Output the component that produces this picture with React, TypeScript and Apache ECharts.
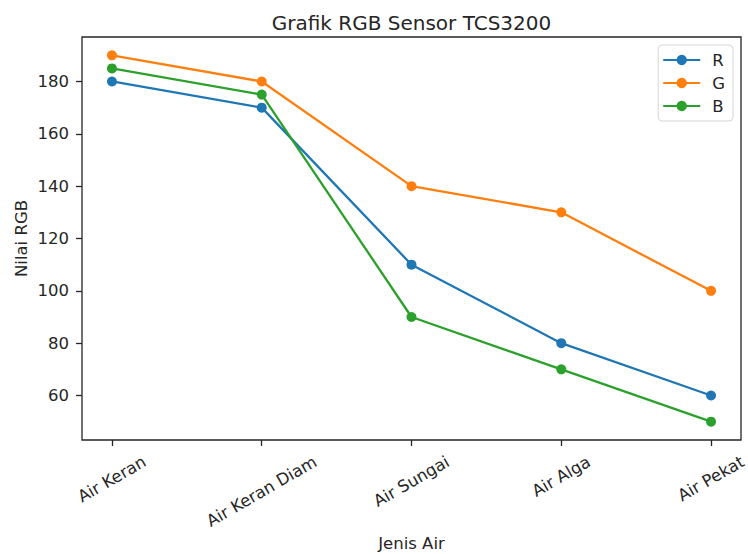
import React, { useEffect, useRef } from "react";
import * as echarts from "echarts";

const categories = ["Air Keran", "Air Keran Diam", "Air Sungai", "Air Alga", "Air Pekat"];
const rValues = [180, 170, 110, 80, 60];
const gValues = [190, 180, 140, 130, 100];
const bValues = [185, 175, 90, 70, 50];
const yTicks = [60, 80, 100, 120, 140, 160, 180];
const seriesNames = ["R", "G", "B"];
const seriesColors = ["#1f77b4", "#ff7f0e", "#2ca02c"];

const FONT = "DejaVu Sans";
const TICK_FS = 16.5;
const INK = "#262626";

export default function App() {
  const ref = useRef<HTMLDivElement>(null);
  useEffect(() => {
    if (!ref.current) return;
    const chart = echarts.init(ref.current, undefined, { renderer: "svg" });
    const gridLeft = 82, gridRight = 7, gridTop = 37, gridBottom = 114;
    const W = 748, H = 554;
    const allSeries = [rValues, gValues, bValues].map((vals, k) => ({
      name: seriesNames[k],
      type: "line",
      data: vals.map((v, i) => [i, v]),
      symbol: "circle",
      symbolSize: 10,
      lineStyle: { width: 2.3, color: seriesColors[k] },
      itemStyle: { color: seriesColors[k] },
      emphasis: { disabled: true },
    }));
    chart.setOption({
      animation: false,
      grid: {
        left: gridLeft, right: gridRight, top: gridTop, bottom: gridBottom,
        show: true, borderColor: INK, borderWidth: 1.3, backgroundColor: "transparent",
      },
      xAxis: {
        type: "value", min: -0.2, max: 4.2,
        axisLine: { show: false, onZero: false },
        splitLine: { show: false },
        axisTick: { show: true, inside: false, length: 6, customValues: [0, 1, 2, 3, 4], lineStyle: { color: INK, width: 1.3 } },
        axisLabel: { show: false },
      },
      yAxis: {
        type: "value", min: 43, max: 197,
        axisLine: { show: false, onZero: false },
        splitLine: { show: false },
        axisTick: { show: true, inside: false, length: 6, customValues: yTicks, lineStyle: { color: INK, width: 1.3 } },
        axisLabel: { show: true, customValues: yTicks, margin: 13, fontSize: TICK_FS, fontFamily: FONT, color: INK },
      },
      legend: {
        orient: "vertical", right: 15, top: 45,
        itemWidth: 37, itemHeight: 13, itemGap: 5,
        padding: [6, 8, 6, 4],
        backgroundColor: "#fff", borderColor: "#d6d6d6", borderWidth: 1, borderRadius: 4,
        textStyle: { fontSize: TICK_FS, fontFamily: FONT, color: INK, lineHeight: 18, padding: [0, 0, 0, 7] },
        data: seriesNames,
      },
      series: allSeries,
    });

    const canvas = document.createElement("canvas");
    const ctx = canvas.getContext("2d")!;
    ctx.font = `${TICK_FS}px "${FONT}"`;
    const plotBottom = H - gridBottom;
    const topY = plotBottom + 12;
    const textH = TICK_FS * 1.17;
    const labelGraphics = categories.map((c, i) => {
      const px = chart.convertToPixel({ xAxisIndex: 0 }, i) as number;
      const w = ctx.measureText(c).width;
      const bboxH = w * 0.5 + textH * 0.866;
      return {
        type: "text",
        x: px,
        y: topY + bboxH / 2,
        rotation: Math.PI / 6,
        style: { text: c, fontSize: TICK_FS, fontFamily: FONT, fill: INK, align: "center", verticalAlign: "middle" },
      };
    });
    const plotCx = (gridLeft + (W - gridRight)) / 2;
    const plotCy = (gridTop + plotBottom) / 2;
    chart.setOption({
      graphic: [
        ...labelGraphics,
        {
          type: "text", x: plotCx, y: 33,
          style: { text: "Grafik RGB Sensor TCS3200", fontSize: 20, fontFamily: FONT, fill: INK, align: "center", verticalAlign: "bottom" },
        },
        {
          type: "text", x: 21, y: plotCy, rotation: Math.PI / 2,
          style: { text: "Nilai RGB", fontSize: TICK_FS, fontFamily: FONT, fill: INK, align: "center", verticalAlign: "middle" },
        },
        {
          type: "text", x: plotCx, y: 543,
          style: { text: "Jenis Air", fontSize: TICK_FS, fontFamily: FONT, fill: INK, align: "center", verticalAlign: "middle" },
        },
      ],
    });
    return () => chart.dispose();
  }, []);
  return <div ref={ref} style={{ position: "fixed", left: 0, top: 0, width: 748, height: 554, background: "#fff" }} />;
}
